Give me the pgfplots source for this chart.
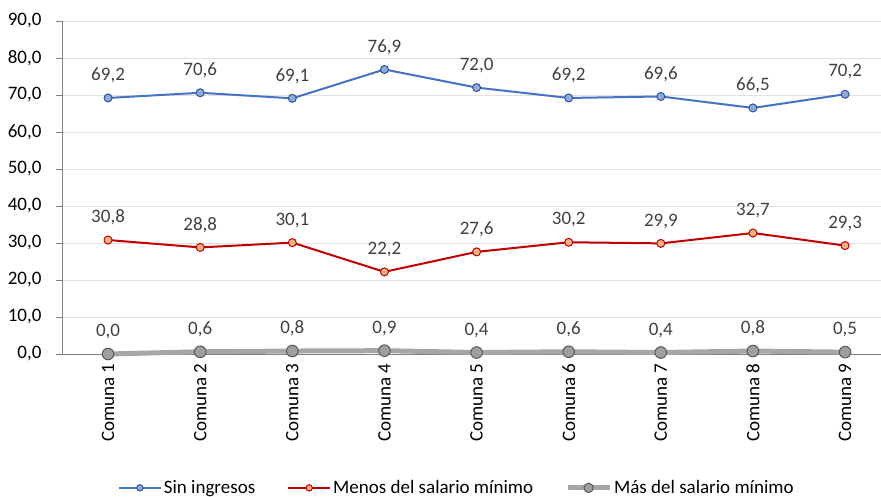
\documentclass[border=0pt]{standalone}
\usepackage{fontspec}
\setmainfont{Carlito}
\usepackage{pgfplots}
\pgfplotsset{compat=1.18}
\definecolor{sinline}{HTML}{4472C4}
\definecolor{sinfill}{HTML}{8FAADC}
\definecolor{sinedge}{HTML}{2F5597}
\definecolor{menline}{HTML}{C00000}
\definecolor{menfill}{HTML}{F4B183}
\definecolor{masline}{HTML}{A6A6A6}
\definecolor{masfill}{HTML}{9E9E9E}
\definecolor{masedge}{HTML}{595959}
\definecolor{lbl}{HTML}{404040}
\begin{document}
\begin{tikzpicture}[x=1pt,y=1pt]
\begin{axis}[
  at={(0,0)}, anchor=south west,
  scale only axis, width=819pt, height=333pt,
  xmin=0.5, xmax=9.39, ymin=0, ymax=90,
  ytick={0,10,...,90},
  xtick={1,...,9},
  xticklabels={Comuna 1,Comuna 2,Comuna 3,Comuna 4,Comuna 5,Comuna 6,Comuna 7,Comuna 8,Comuna 9},
  extra x ticks={1.5,2.5,...,8.5},
  extra x tick labels={},
  extra x tick style={major tick length=7pt, tick style={draw=gray}, grid=none},
  x tick label style={rotate=90, anchor=east, font=\fontsize{19}{19}\selectfont, text=black},
  y tick label style={font=\fontsize{19}{19}\selectfont, text=black, xshift=-11pt},
  yticklabel={\pgfmathprintnumber[fixed,fixed zerofill,precision=1,use comma]{\tick}},
  /pgf/number format/assume math mode=true,
  ymajorgrids, grid style={draw=black!12, line width=0.8pt},
  axis x line*=bottom, axis y line*=left,
  axis line style={draw=gray, line width=0.8pt},
  x axis line style={-}, y axis line style={-},
  major x tick style={draw=none},
  major y tick style={draw=gray},
  tick align=outside, major tick length=6pt,
  clip=false,
  nodes near coords={\pgfmathprintnumber[fixed,fixed zerofill,precision=1,use comma]{\pgfplotspointmeta}},
  every node near coord/.append style={font=\fontsize{19}{19}\selectfont, text=lbl, yshift=11pt},
  legend columns=3,
  legend style={at={(0.482,-0.402)}, anchor=center, draw=none, fill=none,
    font=\fontsize{19}{19}\selectfont,
    /tikz/every odd column/.append style={column sep=0pt},
    /tikz/every even column/.append style={column sep=30pt},
    nodes={inner xsep=2pt}},
  legend image code/.code={\draw[#1] (0pt,0pt) -- (42pt,0pt);\draw[#1,mark repeat=1,mark size=0.8*\pgfplotmarksize] plot coordinates {(21pt,0pt)};},
]
\addplot[color=sinline, line width=2pt, mark=*, mark size=4pt,
  mark options={fill=sinfill, draw=sinedge, line width=1pt}]
  coordinates {(1,69.2)(2,70.6)(3,69.1)(4,76.9)(5,72.0)(6,69.2)(7,69.6)(8,66.5)(9,70.2)};
\addlegendentry{Sin ingresos}
\addplot[color=menline, line width=2pt, mark=*, mark size=4pt,
  mark options={fill=menfill, draw=menline, line width=1pt}]
  coordinates {(1,30.8)(2,28.8)(3,30.1)(4,22.2)(5,27.6)(6,30.2)(7,29.9)(8,32.7)(9,29.3)};
\addlegendentry{Menos del salario mínimo}
\addplot[color=masline, line width=5pt, mark=*, mark size=5.8pt,
  mark options={fill=masfill, draw=masedge, line width=1pt}]
  coordinates {(1,0.0)(2,0.6)(3,0.8)(4,0.9)(5,0.4)(6,0.6)(7,0.4)(8,0.8)(9,0.5)};
\addlegendentry{Más del salario mínimo}
\end{axis}
\pgfresetboundingbox
\path (-62,-143) rectangle (819,354);
\end{tikzpicture}
\end{document}
